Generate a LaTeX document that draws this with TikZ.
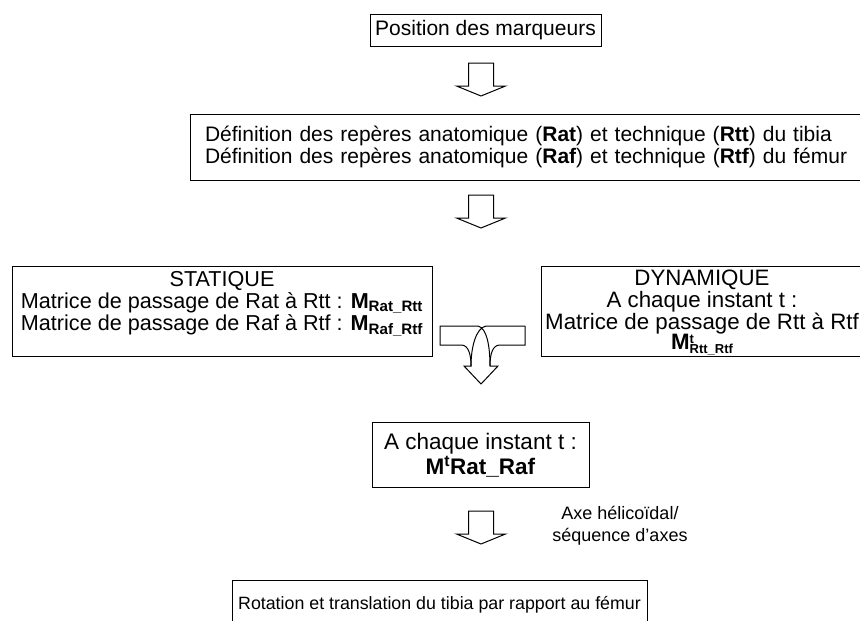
\documentclass[tikz,border=0pt]{standalone}
\usepackage{fontspec}
\setmainfont{Liberation Sans}
\usetikzlibrary{positioning, calc}
\tikzset{
  box/.style={rectangle, draw=black, line width=1pt, inner sep=0pt},
  txt/.style={align=center, inner sep=0pt, font=\fontsize{#1}{22}\selectfont},
  txt/.default=21,
  outline/.style={draw=black, line width=1pt, line join=miter},
  hollowarrow/.pic={\draw[outline] (-12.5,0) -- (12.5,0) -- (12.5,23) -- (24.5,23) -- (0,33) -- (-24.5,23) -- (-12.5,23) -- cycle;},
}
\newcommand{\bmat}[1]{\textbf{M}\textsubscript{\textbf{#1}}}
\newcommand{\smallbf}[1]{{\fontsize{13}{13}\selectfont\textbf{#1}}}

\begin{document}
\begin{tikzpicture}[x=1pt, y=-1pt]
  \useasboundingbox (0,0) rectangle (860,621);

  \node[box, txt, minimum width=231, minimum height=32] (pos) at (485.5,30) {Position des marqueurs};
  \node[box, txt, align=left, text width=644, minimum width=674, minimum height=66] (def) at (527,147)
    {Définition des repères anatomique (\textbf{Rat}) et technique (\textbf{Rtt}) du tibia\\
     Définition des repères anatomique (\textbf{Raf}) et technique (\textbf{Rtf}) du fémur};

  \node[box, minimum width=420, minimum height=90] (stat) at (222,311) {};
  \node[txt=21.6] (statText) at (222,304)
    {STATIQUE\\
     Matrice de passage de Rat à Rtt : \bmat{Rat\_Rtt}\\
     Matrice de passage de Raf à Rtf : \bmat{Raf\_Rtf}};
  \node[box, minimum width=322, minimum height=90] (dyn) at (702,311) {};
  \node[txt=22.3] (dynText) at (702,302)
    {DYNAMIQUE\\
     A chaque instant t :\\
     Matrice de passage de Rtt à Rtf};
  \node[txt=22.3, anchor=north] (dynMat) at (702,334)
    {\textbf{M}\rlap{\raisebox{6pt}{\smallbf{t}}}\raisebox{-4pt}{\smallbf{Rtt\_Rtf}}};

  \node[box, minimum width=217, minimum height=65] (inst) at (480.5,454.5) {};
  \node[txt=22.5] (instText) at (480.5,455)
    {A chaque instant t :\\[1pt]\textbf{M\textsuperscript{t}Rat\_Raf}};
  \node[txt=18] (axe) at (620,526) {Axe hélicoïdal/\\séquence d’axes};
  \node[box, txt=17.8, minimum width=415, minimum height=50] (rot) at (439.5,605)
    {Rotation et translation du tibia par rapport au fémur};

  % arrows
  \pic at (481,63) {hollowarrow};
  \pic at (481,195) {hollowarrow};
  \pic at (481,511) {hollowarrow};

  % merging arrow
  \draw[outline] (440,326) -- (478,326) .. controls (487,328) and (490,347) .. (490,366)
    -- (498,366) -- (481,384) -- (464,366) -- (471,366)
    .. controls (471,353) and (468,345) .. (461,345) -- (440,345) -- cycle;
  \draw[outline] (525,326) -- (486,326) .. controls (476,328) and (471,347) .. (471,366);
  \draw[outline] (490,366) .. controls (490,353) and (493,345) .. (500,345) -- (525,345) -- (525,326);
\end{tikzpicture}
\end{document}
